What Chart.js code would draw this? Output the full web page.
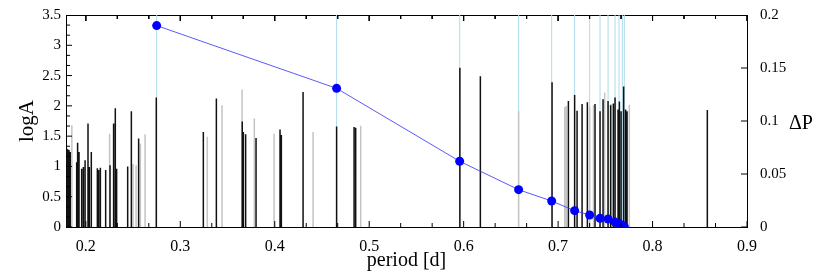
<!DOCTYPE html>
<html><head><meta charset="utf-8">
<script src="https://cdn.jsdelivr.net/npm/chart.js@4/dist/chart.umd.min.js"></script>
<style>html,body{margin:0;padding:0;background:#fff}canvas{display:block}</style>
</head><body>
<canvas id="c" width="830" height="277"></canvas>
<script>
// ---- data ----
const xTickLabels = ['0.2','0.3','0.4','0.5','0.6','0.7','0.8','0.9'];
const yTickLabels = ['0','0.5','1','1.5','2','2.5','3','3.5'];
const y2TickLabels = ['0','0.05','0.1','0.15','0.2'];

const blackPeriods = [0.1800,0.1810,0.1822,0.1835,0.1903,0.1913,0.1928,0.1956,0.1974,0.1992,0.2023,0.2037,0.2058,0.2122,0.2136,0.2154,0.2210,0.2256,0.2294,0.2312,0.2326,0.2443,0.2482,0.2559,0.2746,0.3244,0.3382,0.3656,0.3668,0.3692,0.3802,0.4056,0.4070,0.4300,0.4655,0.4840,0.4857,0.5960,0.6177,0.6936,0.7109,0.7175,0.7201,0.7254,0.7310,0.7391,0.7444,0.7476,0.7529,0.7556,0.7585,0.7603,0.7635,0.7649,0.7667,0.7694,0.7715,0.7730,0.8580];
const blackLogA    = [1.29,1.28,1.27,1.24,1.07,1.39,1.24,0.96,0.99,1.10,1.71,0.99,1.24,0.97,0.94,0.98,0.94,1.02,1.71,1.96,0.96,1.00,1.91,1.46,2.14,1.57,2.12,1.74,1.57,1.53,1.47,1.61,1.52,2.23,1.66,1.65,1.64,2.63,2.49,2.39,2.08,2.18,1.92,2.03,2.06,2.03,1.91,2.11,2.08,2.01,2.04,2.14,1.94,2.07,1.91,2.32,1.94,1.91,1.93];
const grayPeriods  = [0.1852,0.2252,0.2500,0.2532,0.2577,0.2627,0.3286,0.3442,0.3654,0.3784,0.3993,0.4406,0.4910,0.6582,0.7070,0.7087,0.7334,0.7375,0.7493,0.7560,0.7754];
const grayLogA     = [1.68,1.54,1.04,1.02,1.38,1.53,1.49,2.01,2.27,1.79,1.54,1.57,1.67,1.91,1.98,2.00,1.99,2.01,2.22,2.03,2.02];

const dpPeriods = [0.2750,0.4655,0.5958,0.6582,0.6932,0.7175,0.7334,0.7444,0.7529,0.7603,0.7645,0.7680,0.7701];
const dpValues  = [0.190,0.1308,0.0620,0.0352,0.0245,0.0154,0.0113,0.0082,0.0075,0.0046,0.0035,0.0015,0.0003];

const Y_MAX = 3.5, Y2_MAX = 0.2, X_MIN = 0.179, X_MAX = 0.9;

// tick-mark geometry (plot area 681 x 212 px)
const PLOT_W = 681, PLOT_H = 212, TICK_MAJ = 6, TICK_MIN = 4;

function spikes(ps, hs){
  const d = [];
  ps.forEach((p,i)=>{ d.push({x:p,y:0},{x:p,y:hs[i]},{x:p,y:null}); });
  return d;
}
function majors(labels){ return labels.map(t=>parseFloat(t)); }
function minors(labels){
  const v = majors(labels), out = [];
  for (let i=0;i<v.length-1;i++){ const s=(v[i+1]-v[i])/3; out.push(v[i]+s, v[i]+2*s); }
  return out;
}
function xTickSegs(){
  const d = [], uy = Y_MAX/PLOT_H;
  const add = (v,len)=>{ d.push({x:v,y:0},{x:v,y:len*uy},{x:v,y:null},{x:v,y:Y_MAX},{x:v,y:Y_MAX-len*uy},{x:v,y:null}); };
  majors(xTickLabels).forEach(v=>add(v,TICK_MAJ));
  minors(xTickLabels).forEach(v=>add(v,TICK_MIN));
  return d;
}
function yTickSegs(){
  const d = [], ux = (X_MAX-X_MIN)/PLOT_W;
  const add = (v,len)=>{ d.push({x:X_MIN,y:v},{x:X_MIN+len*ux,y:v},{x:X_MIN,y:null}); };
  majors(yTickLabels).forEach(v=>add(v,TICK_MAJ));
  minors(yTickLabels).forEach(v=>add(v,TICK_MIN));
  return d;
}
function y2TickSegs(){
  const d = [], ux = (X_MAX-X_MIN)/PLOT_W;
  majors(y2TickLabels).forEach(v=>{ d.push({x:X_MAX,y:v},{x:X_MAX-TICK_MAJ*ux,y:v},{x:X_MAX,y:null}); });
  return d;
}

const SERIF = "'Liberation Serif','Times New Roman',serif";

const titlePlugin = {
  id:'y2title',
  afterDraw(chart){
    const ctx = chart.ctx;
    ctx.save();
    ctx.fillStyle = '#000';
    ctx.font = '20px ' + SERIF;
    ctx.textAlign = 'center';
    ctx.textBaseline = 'alphabetic';
    ctx.fillText('\u0394P', 801, 128.5);
    ctx.restore();
  }
};

const gridOpts = {display:true, drawOnChartArea:false, drawTicks:false};
function fixH(h){ return s=>{ s.height = h; s.paddingLeft = 0; s.paddingRight = 0; s.paddingTop = 0; s.paddingBottom = 0; }; }
function fixW(w){ return s=>{ s.width = w; s.paddingLeft = 0; s.paddingRight = 0; s.paddingTop = 0; s.paddingBottom = 0; }; }
const tickLine = {borderColor:'#000', borderWidth:1, pointRadius:0, fill:false, order:0};

new Chart(document.getElementById('c'), {
  type:'line',
  data:{
    datasets:[
      { label:'markers', data: spikes(dpPeriods, dpPeriods.map(()=>Y_MAX)), yAxisID:'y',
        borderColor:'#aedcec', borderWidth:1, pointRadius:0, fill:false, order:4 },
      { label:'gray', data: spikes(grayPeriods, grayLogA), yAxisID:'y',
        borderColor:'#c4c4c4', borderWidth:1.5, pointRadius:0, fill:false, order:3 },
      { label:'black', data: spikes(blackPeriods, blackLogA), yAxisID:'y',
        borderColor:'#111111', borderWidth:1.5, pointRadius:0, fill:false, order:2 },
      { label:'dP', data: dpPeriods.map((p,i)=>({x:p,y:dpValues[i]})), yAxisID:'y2',
        borderColor:'rgba(60,60,255,0.85)', borderWidth:1, pointRadius:4.5, pointBackgroundColor:'#0000ff',
        pointBorderWidth:0, pointBorderColor:'#0000ff', tension:0, fill:false, order:1 },
      Object.assign({ label:'xticks', data: xTickSegs(), yAxisID:'y' }, tickLine),
      Object.assign({ label:'yticks', data: yTickSegs(), yAxisID:'y' }, tickLine),
      Object.assign({ label:'y2ticks', data: y2TickSegs(), yAxisID:'y2' }, tickLine)
    ]
  },
  options:{
    responsive:false, animation:false, devicePixelRatio:1,
    layout:{padding:0},
    plugins:{legend:{display:false}, tooltip:{enabled:false}},
    scales:{
      x:{ type:'linear', position:'bottom', min:X_MIN, max:X_MAX, weight:0,
        afterBuildTicks(s){ s.ticks = majors(xTickLabels).map(v=>({value:v})); },
        afterFit: fixH(50),
        grid:gridOpts, border:{display:true, color:'#000', width:1},
        ticks:{ padding:10, color:'#000', font:{family:SERIF,size:16}, maxRotation:0, autoSkip:false,
          callback:(v,i)=>xTickLabels[i] },
        title:{ display:true, text:'period [d]', color:'#000', font:{family:SERIF,size:20}, padding:{top:0,bottom:4} } },
      x2:{ type:'linear', position:'top', min:X_MIN, max:X_MAX, weight:0,
        afterBuildTicks(s){ s.ticks = majors(xTickLabels).map(v=>({value:v})); },
        afterFit: fixH(15),
        grid:gridOpts, border:{display:true, color:'#000', width:1}, ticks:{display:false} },
      y:{ type:'linear', position:'left', min:0, max:Y_MAX, weight:0,
        afterBuildTicks(s){ s.ticks = majors(yTickLabels).map(v=>({value:v})); },
        afterFit: fixW(66),
        grid:gridOpts, border:{display:true, color:'#000', width:1},
        ticks:{ padding:5, color:'#000', font:{family:SERIF,size:15}, autoSkip:false,
          callback:(v,i)=>yTickLabels[i] },
        title:{ display:true, text:'logA', color:'#000', font:{family:SERIF,size:21}, padding:{top:15,bottom:0} } },
      y2:{ type:'linear', position:'right', min:0, max:Y2_MAX, weight:0,
        afterBuildTicks(s){ s.ticks = majors(y2TickLabels).map(v=>({value:v})); },
        afterFit: fixW(83),
        grid:gridOpts, border:{display:true, color:'#000', width:1},
        ticks:{ padding:13, color:'#000', font:{family:SERIF,size:15}, autoSkip:false,
          callback:(v,i)=>y2TickLabels[i] } }
    }
  },
  plugins:[titlePlugin]
});
</script></body></html>
